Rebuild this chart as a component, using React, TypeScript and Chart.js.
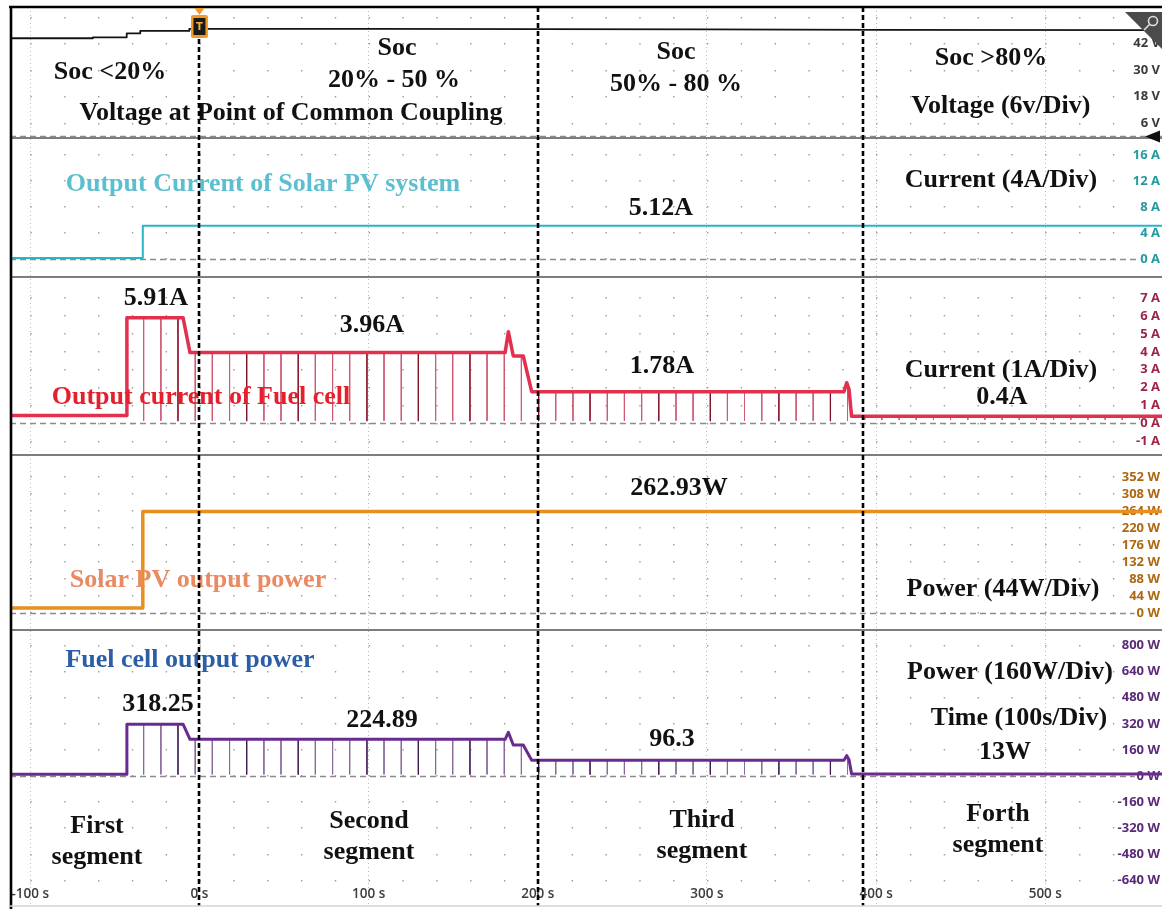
import React, { useEffect, useRef } from "react";
import { Chart, registerables } from "chart.js";

Chart.register(...registerables);

// ---- time base (seconds) ----
const timeMin = -112;
const timeMax = 569;
const timeTicks = [-100, 0, 100, 200, 300, 400, 500];
const timeTickLabels = ["-100 s", "0 s", "100 s", "200 s", "300 s", "400 s", "500 s"];
const segmentBoundaries = [0, 200, 392];

// ---- voltage at the point of common coupling (V) ----
const voltageTimes = [-112, -63, -63, -43, -43, -35, -35, -6, -6, 100, 200, 300, 400, 569];
const voltageValues = [44.5, 44.5, 44.9, 44.9, 46.7, 46.7, 47.8, 47.8, 48.7, 48.7, 48.6, 48.5, 48.3, 48.2];
const voltageTicks = [6, 18, 30, 42];
const voltageTickLabels = ["6 V", "18 V", "30 V", "42 V"];

// ---- solar PV output current (A) ----
const pvCurrentTimes = [-112, -33.5, -33.5, 569];
const pvCurrentValues = [0.15, 0.15, 5.12, 5.12];
const pvCurrentTicks = [0, 4, 8, 12, 16];
const pvCurrentTickLabels = ["0 A", "4 A", "8 A", "12 A", "16 A"];

// ---- fuel cell output current (A) ----
const fcCurrentTimes = [-112, -42.9, -42.9, -9.7, -5.6, 180.7, 182.6, 185.5, 191.4, 196.4, 381, 382.6, 384, 385.5, 569];
const fcCurrentValues = [0.45, 0.45, 5.91, 5.91, 3.96, 3.96, 5.13, 3.77, 3.77, 1.78, 1.78, 2.28, 1.9, 0.4, 0.4];
const fcCurrentTicks = [-1, 0, 1, 2, 3, 4, 5, 6, 7];
const fcCurrentTickLabels = ["-1 A", "0 A", "1 A", "2 A", "3 A", "4 A", "5 A", "6 A", "7 A"];

// ---- solar PV output power (W) ----
const pvPowerTimes = [-112, -33.5, -33.5, 569];
const pvPowerValues = [13, 13, 262.93, 262.93];
const pvPowerTicks = [0, 44, 88, 132, 176, 220, 264, 308, 352];
const pvPowerTickLabels = ["0 W", "44 W", "88 W", "132 W", "176 W", "220 W", "264 W", "308 W", "352 W"];

// ---- fuel cell output power (W) ----
const fcPowerTimes = [-112, -42.9, -42.9, -9.7, -5.6, 180.7, 182.6, 185.5, 191.4, 196.4, 381, 382.6, 384, 385.5, 569];
const fcPowerValues = [10, 10, 318.25, 318.25, 224.89, 224.89, 268, 190, 190, 96.3, 96.3, 125, 100, 13, 13];
const fcPowerTicks = [-640, -480, -320, -160, 0, 160, 320, 480, 640, 800];
const fcPowerTickLabels = ["-640 W", "-480 W", "-320 W", "-160 W", "0 W", "160 W", "320 W", "480 W", "640 W", "800 W"];

// ---- converter switching dips seen on the fuel cell traces ----
const spikeTimes = [-33.0, -22.8, -12.7, -2.5, 7.6, 17.8, 27.9, 38.1, 48.2, 58.4, 68.5, 78.7, 88.8, 99.0, 109.1, 119.3, 129.4, 139.6, 149.7, 159.9, 170.0, 180.2, 190.3, 200.5, 210.6, 220.8, 230.9, 241.1, 251.2, 261.4, 271.5, 281.7, 291.8, 302.0, 312.1, 322.2, 332.4, 342.5, 352.7, 362.8, 373.0, 383.1];
const darkSpikeTimes = [-12.7, 27.9, 58.4, 99.0, 129.4, 159.9, 200.5, 230.9, 271.5, 302.0, 342.5, 373.0];
const tailSpikeTimes = [393.3, 403.4, 413.6, 423.7, 433.9, 444.0, 454.2, 464.3, 474.5, 484.6, 494.8, 504.9, 515.1, 525.2, 535.4, 545.5, 555.7, 565.8];
const fcCurrentSpikeFloor = 0.15;
const fcCurrentTailFloor = 0.2;
const fcPowerSpikeFloor = 10;

// ---- stacked oscilloscope channels ----
const panels = [
  { id: "yV", weight: 131, min: -0.68, max: 58.65, ticks: voltageTicks, labels: voltageTickLabels, grid: [6, 18, 30, 42, 54], labelColor: "#3b3b3b" },
  { id: "yIpv", weight: 139, min: -2.77, max: 18.62, ticks: pvCurrentTicks, labels: pvCurrentTickLabels, grid: pvCurrentTicks, labelColor: "#239a9f" },
  { id: "yIfc", weight: 178, min: -1.76, max: 8.184, ticks: fcCurrentTicks, labels: fcCurrentTickLabels, grid: fcCurrentTicks, labelColor: "#9c2444" },
  { id: "yPpv", weight: 175, min: -44, max: 408.9, ticks: pvPowerTicks, labels: pvPowerTickLabels, grid: pvPowerTicks, labelColor: "#ad6812" },
  { id: "yPfc", weight: 276, min: -797.5, max: 895.7, ticks: fcPowerTicks, labels: fcPowerTickLabels, grid: fcPowerTicks, labelColor: "#5a2a78" },
];

const serif = "'Liberation Serif', 'Times New Roman', serif";
const notes = [
  { text: "Soc <20%", x: 110, y: 72 },
  { text: "Soc", x: 397, y: 48 },
  { text: "20% - 50 %", x: 394, y: 80 },
  { text: "Voltage at Point of Common Coupling", x: 291, y: 113 },
  { text: "Soc", x: 676, y: 52 },
  { text: "50% - 80 %", x: 676, y: 84 },
  { text: "Soc >80%", x: 991, y: 58 },
  { text: "Voltage (6v/Div)", x: 1001, y: 106 },
  { text: "Output Current of Solar PV system", x: 263, y: 184, color: "#5cbfcf" },
  { text: "5.12A", x: 661, y: 208 },
  { text: "Current (4A/Div)", x: 1001, y: 180 },
  { text: "5.91A", x: 156, y: 298 },
  { text: "3.96A", x: 372, y: 325 },
  { text: "1.78A", x: 662, y: 366 },
  { text: "Output current of Fuel cell", x: 201, y: 397, color: "#e5202c" },
  { text: "Current (1A/Div)", x: 1001, y: 370 },
  { text: "0.4A", x: 1002, y: 397 },
  { text: "262.93W", x: 679, y: 488 },
  { text: "Solar PV output power", x: 198, y: 580, color: "#e98a62" },
  { text: "Power (44W/Div)", x: 1003, y: 589 },
  { text: "Fuel cell output power", x: 190, y: 660, color: "#2c5ea6" },
  { text: "318.25", x: 158, y: 704 },
  { text: "224.89", x: 382, y: 720 },
  { text: "96.3", x: 672, y: 739 },
  { text: "Power (160W/Div)", x: 1010, y: 672 },
  { text: "Time (100s/Div)", x: 1019, y: 718 },
  { text: "13W", x: 1005, y: 752 },
  { text: "First", x: 97, y: 826 },
  { text: "segment", x: 97, y: 857 },
  { text: "Second", x: 369, y: 821 },
  { text: "segment", x: 369, y: 852 },
  { text: "Third", x: 702, y: 820 },
  { text: "segment", x: 702, y: 851 },
  { text: "Forth", x: 998, y: 814 },
  { text: "segment", x: 998, y: 845 },
];

const pts = (ts: number[], vs: number[]) => ts.map((t, i) => ({ x: t, y: vs[i] }));

// value of a stepped trace at time t (last recorded level at or before t)
const levelAt = (ts: number[], vs: number[], t: number) => {
  let v = vs[0];
  for (let i = 0; i < ts.length; i++) if (ts[i] <= t) v = vs[i];
  return v;
};

const spikePts = (times: number[], ts: number[], vs: number[], floor: number) =>
  times.flatMap((t) => [
    { x: t, y: levelAt(ts, vs, t) },
    { x: t, y: floor },
    { x: t, y: null },
  ]);

const line = (ctx: CanvasRenderingContext2D, x1: number, y1: number, x2: number, y2: number) => {
  ctx.beginPath();
  ctx.moveTo(x1, y1);
  ctx.lineTo(x2, y2);
  ctx.stroke();
};

const overlay = {
  id: "scopeOverlay",
  beforeDatasetsDraw(chart: any) {
    const { ctx, chartArea: a, scales } = chart;
    ctx.save();
    // channel reference levels
    ctx.setLineDash([6, 4]);
    ctx.strokeStyle = "#8c8c8c";
    ctx.lineWidth = 1.3;
    panels.forEach((p) => {
      const y = Math.round(scales[p.id].getPixelForValue(0)) + 0.5;
      line(ctx, a.left, y, a.right, y);
    });
    ctx.setLineDash([]);
    // channel separators
    ctx.strokeStyle = "#7d7d7d";
    ctx.lineWidth = 2;
    panels.slice(1).forEach((p) => {
      const y = Math.round(scales[p.id].top);
      line(ctx, a.left, y, a.right, y);
    });
    // channel scale labels on the right
    ctx.font = "bold 13px 'Open Sans'";
    ctx.textAlign = "right";
    ctx.textBaseline = "middle";
    panels.forEach((p) => {
      p.ticks.forEach((v, i) => {
        const y = scales[p.id].getPixelForValue(v);
        const w = ctx.measureText(p.labels[i]).width;
        ctx.fillStyle = "#ffffff";
        ctx.fillRect(a.right - 2 - w - 2, y - 6, w + 4, 12);
        ctx.fillStyle = p.labelColor;
        ctx.fillText(p.labels[i], a.right - 2, y);
      });
    });
    // time labels
    ctx.font = "600 13.5px 'Open Sans'";
    ctx.textAlign = "center";
    ctx.fillStyle = "#3c3c3c";
    timeTicks.forEach((t, i) => {
      ctx.fillText(timeTickLabels[i], scales.x.getPixelForValue(t), a.bottom - 12);
    });
    ctx.restore();
  },
  afterDatasetsDraw(chart: any) {
    const { ctx, chartArea: a, scales } = chart;
    ctx.save();
    // annotations
    ctx.font = `bold 26px ${serif}`;
    ctx.textAlign = "center";
    ctx.textBaseline = "middle";
    notes.forEach((n) => {
      ctx.fillStyle = n.color || "#111111";
      ctx.fillText(n.text, n.x, n.y);
    });
    // SoC segment boundaries
    ctx.strokeStyle = "#000000";
    ctx.lineWidth = 2.6;
    ctx.setLineDash([5, 3]);
    segmentBoundaries.forEach((t) => {
      const x = Math.round(scales.x.getPixelForValue(t));
      line(ctx, x, a.top, x, a.bottom);
    });
    ctx.setLineDash([]);
    // frame
    ctx.lineWidth = 2.6;
    line(ctx, a.left - 1, a.top, a.right, a.top);
    line(ctx, a.left + 1, a.top - 1, a.left + 1, chart.height);
    ctx.strokeStyle = "#d4d4d4";
    ctx.lineWidth = 1.5;
    line(ctx, a.left, a.bottom, a.right, a.bottom);
    // trigger marker
    const x0 = scales.x.getPixelForValue(0);
    ctx.fillStyle = "#f39a22";
    ctx.beginPath();
    ctx.moveTo(x0 - 5, a.top + 1);
    ctx.lineTo(x0 + 5, a.top + 1);
    ctx.lineTo(x0, a.top + 8);
    ctx.closePath();
    ctx.fill();
    ctx.beginPath();
    ctx.roundRect(x0 - 8.5, 15, 17, 23, 2);
    ctx.fill();
    ctx.fillStyle = "#1a1a1a";
    ctx.fillRect(x0 - 6, 18, 12, 17);
    ctx.fillStyle = "#f6b04a";
    ctx.font = "bold 10px 'DejaVu Sans'";
    ctx.fillText("T", x0, 27);
    // zoom badge in the corner
    ctx.fillStyle = "#4b4b4b";
    ctx.beginPath();
    ctx.moveTo(a.right - 37, a.top + 5);
    ctx.lineTo(a.right, a.top + 5);
    ctx.lineTo(a.right, a.top + 42);
    ctx.closePath();
    ctx.fill();
    ctx.strokeStyle = "#e0e0e0";
    ctx.lineWidth = 1.6;
    ctx.beginPath();
    ctx.arc(a.right - 9, a.top + 14, 4.5, 0, Math.PI * 2);
    ctx.stroke();
    line(ctx, a.right - 12.5, a.top + 17.5, a.right - 18, a.top + 23);
    // channel 1 ground marker
    const yg = scales.yV.getPixelForValue(0);
    ctx.fillStyle = "#111111";
    ctx.beginPath();
    ctx.moveTo(a.right - 17, yg);
    ctx.lineTo(a.right - 2, yg - 6);
    ctx.lineTo(a.right - 2, yg + 6);
    ctx.closePath();
    ctx.fill();
    ctx.restore();
  },
};

const traceStyle = { showLine: true, pointRadius: 0, xAxisID: "x", borderJoinStyle: "round" as const };

export default function App() {
  const ref = useRef<HTMLCanvasElement>(null);
  useEffect(() => {
    const canvas = ref.current;
    if (!canvas) return;
    const yScales: any = {};
    panels.forEach((p) => {
      yScales[p.id] = {
        type: "linear",
        position: "right",
        stack: "scope",
        stackWeight: p.weight,
        min: p.min,
        max: p.max,
        afterBuildTicks: (s: any) => {
          s.ticks = p.grid.map((v) => ({ value: v }));
        },
        afterFit: (s: any) => {
          s.width = 0;
        },
        ticks: { display: false },
        grid: { color: "#9c9c9c", lineWidth: 1.4, drawTicks: false },
        border: { display: false, dash: [1.4, 32.43], dashOffset: 13.5 },
      };
    });
    const chart = new Chart(canvas, {
      type: "scatter",
      data: {
        datasets: [
          { ...traceStyle, yAxisID: "yV", data: pts(voltageTimes, voltageValues), borderColor: "#141414", borderWidth: 1.8 },
          { ...traceStyle, yAxisID: "yIpv", data: pts(pvCurrentTimes, pvCurrentValues), borderColor: "#2bb4c4", borderWidth: 2 },
          { ...traceStyle, yAxisID: "yIfc", data: pts(fcCurrentTimes, fcCurrentValues), borderColor: "#e2304f", borderWidth: 3.5 },
          { ...traceStyle, yAxisID: "yPpv", data: pts(pvPowerTimes, pvPowerValues), borderColor: "#e8901c", borderWidth: 3.5 },
          { ...traceStyle, yAxisID: "yPfc", data: pts(fcPowerTimes, fcPowerValues), borderColor: "#6a2b8e", borderWidth: 3 },
          { ...traceStyle, yAxisID: "yIfc", data: spikePts(darkSpikeTimes, fcCurrentTimes, fcCurrentValues, fcCurrentSpikeFloor), borderColor: "#7b1426", borderWidth: 1.2 },
          { ...traceStyle, yAxisID: "yIfc", data: spikePts(spikeTimes, fcCurrentTimes, fcCurrentValues, fcCurrentSpikeFloor), borderColor: "#cf5a74", borderWidth: 1 },
          { ...traceStyle, yAxisID: "yIfc", data: spikePts(tailSpikeTimes, fcCurrentTimes, fcCurrentValues, fcCurrentTailFloor), borderColor: "#cf5a74", borderWidth: 1 },
          { ...traceStyle, yAxisID: "yPfc", data: spikePts(darkSpikeTimes, fcPowerTimes, fcPowerValues, fcPowerSpikeFloor), borderColor: "#3c1a4e", borderWidth: 1.2 },
          { ...traceStyle, yAxisID: "yPfc", data: spikePts(spikeTimes, fcPowerTimes, fcPowerValues, fcPowerSpikeFloor), borderColor: "#8a6a9c", borderWidth: 1 },
        ] as any,
      },
      options: {
        animation: false,
        responsive: false,
        devicePixelRatio: 1,
        layout: { padding: { left: 10, top: 7, right: 0, bottom: 3 } },
        plugins: { legend: { display: false }, tooltip: { enabled: false } },
        elements: { line: { tension: 0 } },
        scales: {
          x: {
            type: "linear",
            position: "bottom",
            min: timeMin,
            max: timeMax,
            afterBuildTicks: (s: any) => {
              s.ticks = timeTicks.map((v) => ({ value: v }));
            },
            ticks: { display: false },
            grid: { color: "#bdbdbd", lineWidth: 1, drawTicks: false },
            border: { display: false, dash: [1, 3] },
          },
          ...yScales,
        },
      },
      plugins: [overlay],
    });
    return () => chart.destroy();
  }, []);

  return (
    <div style={{ position: "absolute", left: 0, top: 0, width: 1162, height: 909, background: "#ffffff" }}>
      <canvas ref={ref} width={1162} height={909} style={{ display: "block" }} />
    </div>
  );
}
